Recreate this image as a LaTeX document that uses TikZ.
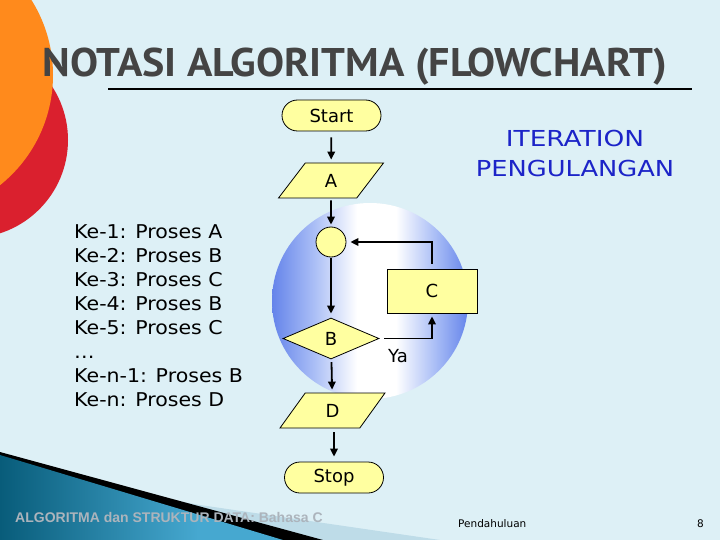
\documentclass[tikz,border=0pt]{standalone}
\usepackage{fontspec}
\setmainfont{DejaVu Sans}
\newfontfamily\titlefont{PT Sans}
\newfontfamily\arialfont{Liberation Sans}
\usetikzlibrary{shapes.geometric,arrows.meta,calc}
\definecolor{bg}{RGB}{221,240,246}
\definecolor{orangeblob}{RGB}{255,138,28}
\definecolor{redblob}{RGB}{218,32,46}
\definecolor{orbblue}{RGB}{98,130,234}
\definecolor{orbmid}{RGB}{170,190,246}
\definecolor{fcyellow}{RGB}{255,255,160}
\definecolor{titlegray}{RGB}{68,68,68}
\definecolor{iterblue}{RGB}{28,36,200}
\definecolor{tealdark}{RGB}{8,92,122}
\definecolor{teallight}{RGB}{70,168,208}
\definecolor{lightband}{RGB}{190,220,232}
\definecolor{footgray}{RGB}{172,180,188}
\pgfdeclarehorizontalshading{orbshade}{100bp}{color(0bp)=(orbblue); color(27bp)=(orbblue); color(37bp)=(orbmid); color(47bp)=(white); color(56bp)=(white); color(65bp)=(orbmid); color(73bp)=(orbblue); color(100bp)=(orbblue)}
\pgfdeclarehorizontalshading{tealshade}{100bp}{color(0bp)=(tealdark); color(25bp)=(tealdark); color(60bp)=(teallight); color(75bp)=(teallight); color(100bp)=(teallight)}
\newcommand{\listline}[1]{\scalebox{1.08}[1]{#1}}
\tikzset{
  box/.style={draw=black, line width=0.8pt, fill=fcyellow, inner sep=0pt,
    font=\fontsize{18}{20}\selectfont},
  term/.style={box, rounded corners=15.5pt, minimum width=99pt, minimum height=31pt},
  para/.style={box, trapezium, trapezium left angle=64, trapezium right angle=116,
    trapezium stretches=true, minimum width=105pt, minimum height=35pt},
  decis/.style={box, diamond, minimum width=96pt, minimum height=41pt},
  conn/.style={box, circle, minimum size=30pt},
  proc/.style={box, rectangle, minimum width=90pt, minimum height=44pt},
  arr/.style={line width=1.8pt, -{Triangle[length=8pt,width=7.5pt]}},
  listtxt/.style={anchor=base west, inner sep=0pt, font=\fontsize{19}{22}\selectfont}
}
\begin{document}
\begin{tikzpicture}[x=1pt,y=-1pt]
\useasboundingbox (0,0) rectangle (720,540);
\fill[bg] (0,0) rectangle (720,540);
% left decorative blobs
\fill[redblob] (-30,140) circle[radius=98];
\fill[orangeblob] (-88,75) circle[radius=141];
% bottom-left decoration
\fill[lightband] (0,470) -- (200,505) -- (440,540) -- (0,540) -- cycle;
\fill[black] (0,452) -- (323,540) -- (0,540) -- cycle;
\shade[shading=tealshade] (0,455) -- (283,540) -- (0,540) -- cycle;
% title
\node[text=titlegray, anchor=base, inner sep=0pt] (title) at (355,77)
  {\titlefont\bfseries\fontsize{40}{44}\selectfont\scalebox{1.05}[1]{NOTASI ALGORITMA (FLOWCHART)}};
\draw[line width=1.6pt] (108,89) -- (692,89);
% orb
\begin{scope}
  \clip (370,301) circle[radius=98];
  \shade[shading=orbshade] (262,193) rectangle (478,409);
\end{scope}
% flowchart
\node[term] (start) at (331.5,115.5) {Start};
\node[para] (A) at (331,180.5) {A};
\node[conn] (circ) at (331,242) {};
\node[decis] (B) at (331,338.5) {B};
\node[proc] (C) at (432,291) {C};
\node[para] (D) at (332.5,410.5) {D};
\node[term] (stop) at (334,477.5) {Stop};
\node[font=\fontsize{18}{20}\selectfont, inner sep=0pt] (ya) at (398,356) {Ya};
\draw[arr, shorten <=6pt, shorten >=3pt] (start) -- (A);
\draw[arr, shorten <=2pt, shorten >=2pt] (A) -- (circ);
\draw[arr, shorten <=1pt, shorten >=4pt] (circ) -- (B);
\draw[arr, shorten <=3pt, shorten >=3pt] (B) -- (D);
\draw[arr, shorten <=4pt, shorten >=5pt] (D.south -| stop.north) -- (stop);
\draw[arr, shorten <=5pt, shorten >=3pt] (B.east) -| (C.south);
\draw[arr, shorten <=5pt, shorten >=4pt] (C.north) |- (circ.east);
% iteration text
\node[text=iterblue, align=center, inner sep=0pt, font=\fontsize{22}{30}\selectfont] (iter) at (575,153)
  {\scalebox{1.2}[1]{ITERATION}\\\scalebox{1.17}[1]{PENGULANGAN}};
% list
\node[listtxt] (l1) at (74,238) {\listline{Ke-1: Proses A}};
\node[listtxt] (l2) at (74,262) {\listline{Ke-2: Proses B}};
\node[listtxt] (l3) at (74,286) {\listline{Ke-3: Proses C}};
\node[listtxt] (l4) at (74,310) {\listline{Ke-4: Proses B}};
\node[listtxt] (l5) at (74,334) {\listline{Ke-5: Proses C}};
\node[listtxt] (l6) at (74,358) {\listline{…}};
\node[listtxt] (l7) at (74,382) {\listline{Ke-n-1: Proses B}};
\node[listtxt] (l8) at (74,406) {\listline{Ke-n: Proses D}};
% footer
\node[anchor=base west, inner sep=0pt, text=footgray, font=\arialfont\bfseries\fontsize{14}{16}\selectfont] (foot) at (15,522)
  {ALGORITMA dan STRUKTUR DATA: Bahasa C};
\node[anchor=base west, inner sep=0pt, font=\fontsize{10.5}{12}\selectfont] (pend) at (458,527) {Pendahuluan};
\node[anchor=base west, inner sep=0pt, font=\fontsize{10.5}{12}\selectfont] (pg) at (697,527) {8};
\end{tikzpicture}
\end{document}
